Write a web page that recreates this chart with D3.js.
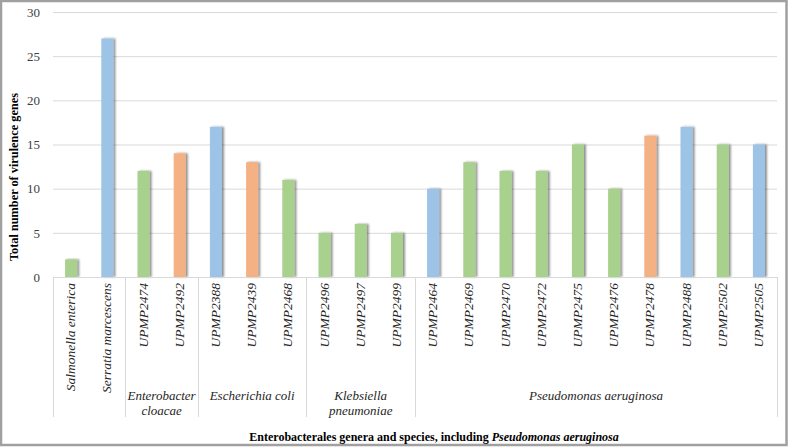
<!DOCTYPE html>
<html lang="en">
  <head>
    <meta charset="UTF-8" />
    <title>Virulence genes</title>
    <style>
      body { margin: 0; background: #fff; }
      svg, svg text { font-family: "Liberation Serif", "Times New Roman", Times, "DejaVu Serif", serif !important; }
    </style>
  </head>
  <body>
    <div id="chart"></div>
    <script src="https://cdn.jsdelivr.net/npm/d3@7"></script>
    <script>

      // isolates, in plot order
      const isolates = ["Salmonella enterica", "Serratia marcescens", "UPMP2474", "UPMP2492",
        "UPMP2388", "UPMP2439", "UPMP2468", "UPMP2496", "UPMP2497", "UPMP2499",
        "UPMP2464", "UPMP2469", "UPMP2470", "UPMP2472", "UPMP2475", "UPMP2476",
        "UPMP2478", "UPMP2488", "UPMP2502", "UPMP2505"];
      const geneCounts = [2, 27, 12, 14, 17, 13, 11, 5, 6, 5, 10, 13, 12, 12, 15, 10, 16, 17, 15, 15];
      // colour class of every bar (g = green, b = blue, o = orange)
      const barClass = ["g", "b", "g", "o", "b", "o", "g", "g", "g", "g",
        "b", "g", "g", "g", "g", "g", "o", "b", "g", "b"];

      // outer level of the category axis: [first index, last index, label lines]
      const groups = [
        [0, 1, []],
        [2, 3, ["Enterobacter", "cloacae"]],
        [4, 6, ["Escherichia coli"]],
        [7, 9, ["Klebsiella", "pneumoniae"]],
        [10, 19, ["Pseudomonas aeruginosa"]]
      ];
      const yTicks = [0, 5, 10, 15, 20, 25, 30];

      const width = 788, height = 447;
      const mLeft = 53, mRight = 777, mTop = 12, mBottom = 277;
      const colors = { g: "#a9d18e", b: "#9dc3e6", o: "#f4b183" };

      const svg = d3.select("#chart").append("svg")
          .attr("width", width)
          .attr("height", height)
          .style("display", "block");

      const defs = svg.append("defs");
      defs.append("filter").attr("id", "shadow")
          .attr("x", "-20%").attr("y", "-5%").attr("width", "160%").attr("height", "110%")
        .append("feDropShadow")
          .attr("dx", 2).attr("dy", 0).attr("stdDeviation", 1)
          .attr("flood-color", "#000").attr("flood-opacity", 0.45);

      // frame
      svg.append("rect")
          .attr("x", 1).attr("y", 1)
          .attr("width", width - 2.5).attr("height", height - 3)
          .attr("fill", "#fff").attr("stroke", "#a0a0a0").attr("stroke-width", 2.5);

      const x = d3.scaleBand(isolates, [mLeft, mRight]).paddingInner(0).paddingOuter(0);
      const y = d3.scaleLinear([0, 30], [mBottom, mTop]);

      // gridlines and y labels
      const yAxis = d3.axisLeft(y).tickValues(yTicks).tickSize(0).tickPadding(13);
      svg.append("g")
          .attr("transform", `translate(${mLeft},0)`)
          .call(yAxis)
          .attr("font-family", null)
          .call(g => g.select(".domain").remove())
          .call(g => g.selectAll(".tick text")
              .attr("font-size", 13)
              .attr("fill", "#404040"))
          .call(g => g.selectAll(".tick line").clone()
              .attr("x2", mRight - mLeft)
              .attr("stroke", "#d9d9d9")
              .attr("stroke-width", 1));

      // bars
      const barW = 12;
      svg.append("g")
          .selectAll("rect")
          .data(isolates)
          .join("rect")
            .attr("x", (d, i) => x(d) + x.bandwidth() / 2 - barW / 2)
            .attr("y", (d, i) => y(geneCounts[i]))
            .attr("width", barW)
            .attr("height", (d, i) => y(0) - y(geneCounts[i]))
            .attr("fill", (d, i) => colors[barClass[i]])
            .attr("filter", "url(#shadow)");

      // category axis baseline
      svg.append("line")
          .attr("x1", mLeft).attr("x2", mRight)
          .attr("y1", mBottom + 0.5).attr("y2", mBottom + 0.5)
          .attr("stroke", "#d9d9d9");

      // inner labels
      svg.append("g")
          .selectAll("text")
          .data(isolates)
          .join("text")
            .attr("transform", d => `translate(${x(d) + x.bandwidth() / 2 + 1},${mBottom + 6}) rotate(-90)`)
            .attr("text-anchor", "end")
            .attr("dominant-baseline", "middle")
            .attr("font-style", "italic")
            .attr("font-size", 13.5)
            .attr("fill", "#262626")
            .text(d => d);

      // group dividers
      const divEdges = [x(isolates[0])].concat(groups.map(gr => x(isolates[gr[1]]) + x.bandwidth()));
      svg.append("g")
          .selectAll("line")
          .data(divEdges)
          .join("line")
            .attr("x1", d => Math.round(d) + 0.5).attr("x2", d => Math.round(d) + 0.5)
            .attr("y1", mBottom).attr("y2", 417)
            .attr("stroke", "#d9d9d9");

      // outer labels
      const outer = svg.append("g");
      groups.forEach(gr => {
        const cx = (x(isolates[gr[0]]) + x(isolates[gr[1]]) + x.bandwidth()) / 2;
        gr[2].forEach((line, k) => {
          outer.append("text")
              .attr("x", cx)
              .attr("y", 400 + k * 15)
              .attr("text-anchor", "middle")
              .attr("font-style", "italic")
              .attr("font-size", 13)
              .attr("fill", "#262626")
              .text(line);
        });
      });

      // axis titles
      svg.append("text")
          .attr("transform", "translate(18,177) rotate(-90)")
          .attr("text-anchor", "middle")
          .attr("font-weight", "bold")
          .attr("font-size", 12.3)
          .attr("fill", "#000")
          .text("Total number of virulence genes");

      const xt = svg.append("text")
          .attr("x", 434).attr("y", 441)
          .attr("text-anchor", "middle")
          .attr("font-weight", "bold")
          .attr("font-size", 12)
          .attr("fill", "#000");
      xt.append("tspan").text("Enterobacterales genera and species, including ");
      xt.append("tspan").attr("font-style", "italic").text("Pseudomonas aeruginosa");

    </script>
  </body>
</html>
